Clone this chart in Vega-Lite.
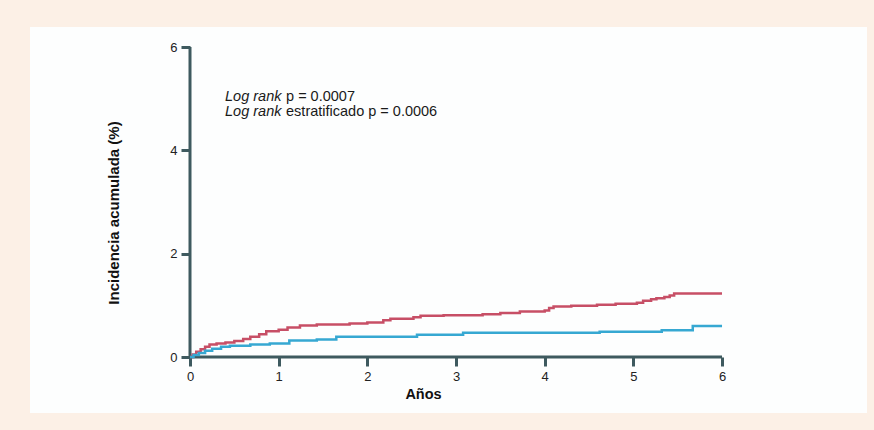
{
  "$schema": "https://vega.github.io/schema/vega-lite/v6.json",
  "width": 837,
  "height": 386,
  "autosize": {"type": "none"},
  "padding": {"left": 30, "top": 27, "right": 7, "bottom": 17},
  "background": "#fcf0e6",
  "config": {
    "view": {"fill": "#fdfefe", "stroke": null},
    "font": "Liberation Sans"
  },
  "datasets": {
    "curvas": [
      {"serie": "A", "x": 0, "y": 0},
      {"serie": "A", "x": 0.03, "y": 0.05},
      {"serie": "A", "x": 0.07, "y": 0.1},
      {"serie": "A", "x": 0.12, "y": 0.15},
      {"serie": "A", "x": 0.17, "y": 0.2},
      {"serie": "A", "x": 0.22, "y": 0.24},
      {"serie": "A", "x": 0.3, "y": 0.26},
      {"serie": "A", "x": 0.4, "y": 0.28},
      {"serie": "A", "x": 0.5, "y": 0.31},
      {"serie": "A", "x": 0.6, "y": 0.35},
      {"serie": "A", "x": 0.68, "y": 0.39},
      {"serie": "A", "x": 0.78, "y": 0.44},
      {"serie": "A", "x": 0.86, "y": 0.5},
      {"serie": "A", "x": 1.0, "y": 0.53},
      {"serie": "A", "x": 1.1, "y": 0.57},
      {"serie": "A", "x": 1.24, "y": 0.61},
      {"serie": "A", "x": 1.43, "y": 0.63},
      {"serie": "A", "x": 1.8, "y": 0.65},
      {"serie": "A", "x": 2.0, "y": 0.67},
      {"serie": "A", "x": 2.18, "y": 0.71},
      {"serie": "A", "x": 2.26, "y": 0.74},
      {"serie": "A", "x": 2.52, "y": 0.77},
      {"serie": "A", "x": 2.6, "y": 0.8},
      {"serie": "A", "x": 2.86, "y": 0.81},
      {"serie": "A", "x": 3.3, "y": 0.83},
      {"serie": "A", "x": 3.5, "y": 0.85},
      {"serie": "A", "x": 3.72, "y": 0.88},
      {"serie": "A", "x": 4.0, "y": 0.9},
      {"serie": "A", "x": 4.05, "y": 0.95},
      {"serie": "A", "x": 4.1, "y": 0.98},
      {"serie": "A", "x": 4.3, "y": 0.99},
      {"serie": "A", "x": 4.59, "y": 1.01},
      {"serie": "A", "x": 4.8, "y": 1.03},
      {"serie": "A", "x": 5.04, "y": 1.05},
      {"serie": "A", "x": 5.11, "y": 1.09},
      {"serie": "A", "x": 5.2, "y": 1.12},
      {"serie": "A", "x": 5.26, "y": 1.14},
      {"serie": "A", "x": 5.35, "y": 1.16},
      {"serie": "A", "x": 5.41, "y": 1.19},
      {"serie": "A", "x": 5.46, "y": 1.23},
      {"serie": "A", "x": 6.0, "y": 1.23},
      {"serie": "B", "x": 0, "y": 0},
      {"serie": "B", "x": 0.04, "y": 0.04},
      {"serie": "B", "x": 0.1, "y": 0.08},
      {"serie": "B", "x": 0.17, "y": 0.12},
      {"serie": "B", "x": 0.25, "y": 0.16},
      {"serie": "B", "x": 0.35, "y": 0.2},
      {"serie": "B", "x": 0.45, "y": 0.22},
      {"serie": "B", "x": 0.68, "y": 0.24},
      {"serie": "B", "x": 0.9, "y": 0.26},
      {"serie": "B", "x": 1.12, "y": 0.32},
      {"serie": "B", "x": 1.43, "y": 0.34},
      {"serie": "B", "x": 1.65, "y": 0.39},
      {"serie": "B", "x": 2.56, "y": 0.43},
      {"serie": "B", "x": 3.08, "y": 0.47},
      {"serie": "B", "x": 4.62, "y": 0.49},
      {"serie": "B", "x": 5.32, "y": 0.52},
      {"serie": "B", "x": 5.67, "y": 0.6},
      {"serie": "B", "x": 6.0, "y": 0.6}
    ],
    "ejes": [
      {"x": 0, "y": 0, "x2": 0, "y2": 6},
      {"x": 0, "y": 0, "x2": 6, "y2": 0}
    ],
    "notas_cursiva": [
      {"x": 0.395, "y": 4.956, "texto": "Log rank"},
      {"x": 0.395, "y": 4.666, "texto": "Log rank"}
    ],
    "notas": [
      {"x": 1.083, "y": 4.956, "texto": "p = 0.0007"},
      {"x": 1.083, "y": 4.666, "texto": "estratificado p = 0.0006"}
    ]
  },
  "encoding": {
    "x": {
      "field": "x",
      "type": "quantitative",
      "scale": {"domain": [-1.8045, 7.635], "nice": false, "zero": false},
      "axis": {
        "values": [0, 1, 2, 3, 4, 5, 6],
        "offset": -56,
        "domain": false,
        "grid": false,
        "tickSize": 9,
        "tickWidth": 3,
        "tickColor": "#3e5a5f",
        "labelFontSize": 13,
        "labelColor": "#222222",
        "labelPadding": 4,
        "title": "Años",
        "titleFontSize": 14.5,
        "titleFontWeight": "bold",
        "titleColor": "#111111",
        "titleX": 393,
        "titleY": 37,
        "titleAlign": "center",
        "titleBaseline": "middle"
      }
    },
    "y": {
      "field": "y",
      "type": "quantitative",
      "scale": {"domain": [-1.084, 6.389], "nice": false, "zero": false},
      "axis": {
        "values": [0, 2, 4, 6],
        "offset": -160,
        "domain": false,
        "grid": false,
        "tickSize": 9,
        "tickWidth": 3,
        "tickColor": "#3e5a5f",
        "labelFontSize": 13,
        "labelColor": "#222222",
        "labelPadding": 4,
        "title": "Incidencia acumulada (%)",
        "titleFontSize": 15,
        "titleFontWeight": "bold",
        "titleColor": "#111111",
        "titleX": -77,
        "titleY": 185.5,
        "titleAlign": "center",
        "titleBaseline": "middle",
        "titleAngle": -90
      }
    }
  },
  "layer": [
    {
      "data": {"name": "ejes"},
      "mark": {"type": "rule", "color": "#3e5a5f", "strokeWidth": 3},
      "encoding": {
        "x2": {"field": "x2"},
        "y2": {"field": "y2"}
      }
    },
    {
      "data": {"name": "curvas"},
      "mark": {"type": "line", "interpolate": "step-after", "strokeWidth": 2.5},
      "encoding": {
        "color": {
          "field": "serie",
          "type": "nominal",
          "scale": {"domain": ["A", "B"], "range": ["#c74f66", "#36a8d2"]},
          "legend": null
        }
      }
    },
    {
      "data": {"name": "notas_cursiva"},
      "mark": {"type": "text", "align": "left", "baseline": "alphabetic", "fontSize": 14.5, "fontStyle": "italic", "color": "#1a1a1a"},
      "encoding": {"text": {"field": "texto"}}
    },
    {
      "data": {"name": "notas"},
      "mark": {"type": "text", "align": "left", "baseline": "alphabetic", "fontSize": 14.5, "color": "#1a1a1a"},
      "encoding": {"text": {"field": "texto"}}
    }
  ]
}
